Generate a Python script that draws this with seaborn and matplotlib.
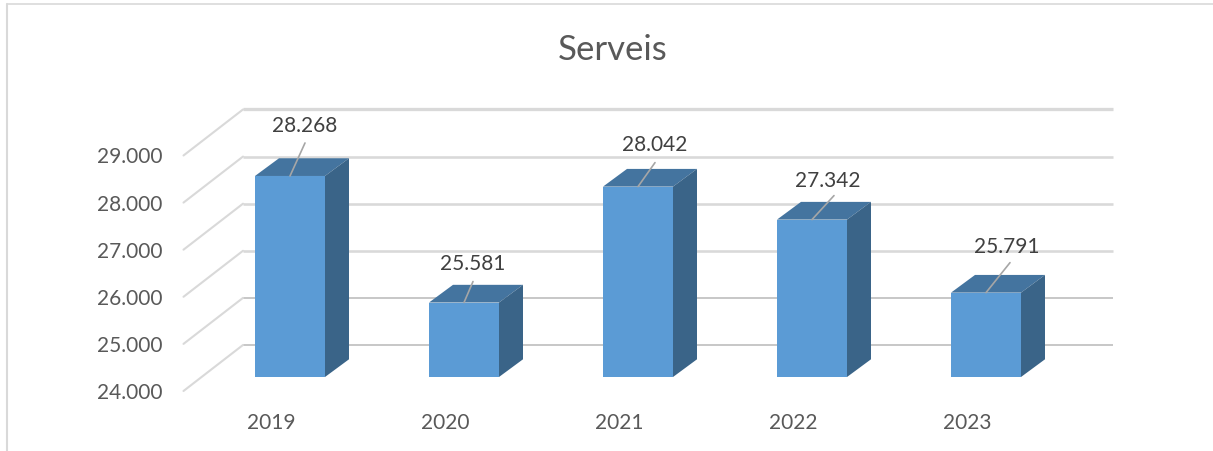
import matplotlib
matplotlib.use("Agg")
import matplotlib.pyplot as plt
import pandas as pd
import seaborn as sns
from matplotlib.lines import Line2D
from matplotlib.patches import Polygon
from matplotlib.transforms import ScaledTranslation

anys = ["2019", "2020", "2021", "2022", "2023"]
serveis = [28268, 25581, 28042, 27342, 25791]
eix_y = [24000, 25000, 26000, 27000, 28000, 29000]

# posicio de les etiquetes i de les linies guia, en pixels des del centre de la barra
etiq_offset = [(15, 51), (9, 40), (17, 43), (16, 40), (21, 47)]
guia_offset = [(15, 33), (9, 21), (17, 24), (22, 24), (24, 30)]

W, H = 1213, 452
sns.set_theme(style="white")
plt.rcParams["font.family"] = ["Lato", "DejaVu Sans"]


def fmt(v):
    return f"{v:,}".replace(",", ".")


df = pd.DataFrame({"any": anys, "serveis": serveis})

fig = plt.figure(figsize=(W / 100, H / 100), dpi=100)
ax = fig.add_axes([203 / W, (H - 378) / H, 870 / W, 235.5 / H])

sns.barplot(
    data=df, x="any", y="serveis", color="#5B9BD5", saturation=1, width=70 / 174,
    linewidth=0, ax=ax, zorder=3,
)
ax.set_xlim(-0.5, 4.5)
ax.set_ylim(24000, 29000)
ax.set_xlabel("")
ax.set_ylabel("")
sns.despine(ax=ax, left=True, bottom=True)

# profunditat de la caixa 3D
bar_w = 70 / 174 / 2
bar_dx = 24 / 174
bar_dy = 376
back_dx = 40 / 174
back_dy = 680
front_dx = 19.5 / 174
front_dy = 297

for i, v in enumerate(serveis):
    ax.add_patch(Polygon(
        [(i - bar_w, v), (i + bar_w, v), (i + bar_w + bar_dx, v + bar_dy), (i - bar_w + bar_dx, v + bar_dy)],
        fc="#44749F", ec="none", clip_on=False, zorder=3,
    ))
    ax.add_patch(Polygon(
        [(i + bar_w, 24000), (i + bar_w, v), (i + bar_w + bar_dx, v + bar_dy), (i + bar_w + bar_dx, 24000 + bar_dy)],
        fc="#3A6488", ec="none", clip_on=False, zorder=3,
    ))

# graella del fons i diagonals del lateral
for v in eix_y:
    lw = 3.3 if v == 29000 else (2.6 if v > 25000 else 2.0)
    color = "#D9D9D9" if v > 25000 else "#C8C8C8"
    ax.plot([-0.5 + back_dx, 4.5 + back_dx], [v + back_dy, v + back_dy], color=color, lw=lw * 0.72,
            clip_on=False, zorder=1, solid_capstyle="butt")
    ax.plot([-0.5 - front_dx, -0.5 + back_dx], [v - front_dy, v + back_dy], color="#D9D9D9", lw=1.5,
            clip_on=False, zorder=1, solid_capstyle="round")

# etiquetes de valor amb linia guia
for i, v in enumerate(serveis):
    ax.annotate("", xy=(i, v), xytext=guia_offset[i], textcoords="offset pixels",
                arrowprops=dict(arrowstyle="-", color="#A6A6A6", lw=1.2, shrinkA=0, shrinkB=0),
                annotation_clip=False, zorder=5)
    ax.annotate(fmt(v), xy=(i, v), xytext=etiq_offset[i], textcoords="offset pixels",
                ha="center", va="center", fontsize=15, color="#404040",
                annotation_clip=False, zorder=6)

ax.set_yticks(eix_y)
ax.set_yticklabels([fmt(v) for v in eix_y])
ax.tick_params(axis="y", length=0, pad=29, labelsize=15, labelcolor="#595959")
ax.tick_params(axis="x", length=0, pad=25.5, labelsize=15, labelcolor="#595959")

for lab in ax.get_yticklabels():
    lab.set_transform(lab.get_transform() + ScaledTranslation(0, -13 / 100, fig.dpi_scale_trans))
for lab in ax.get_xticklabels():
    lab.set_transform(lab.get_transform() + ScaledTranslation(-19 / 100, 0, fig.dpi_scale_trans))

fig.text(612.5 / W, 1 - 50 / H, "Serveis", ha="center", va="center", fontsize=25, color="#595959")

# marc del grafic
fig.add_artist(Line2D([7 / W, 7 / W], [0, 1 - 5 / H], color="#D9D9D9", lw=1.5))
fig.add_artist(Line2D([7 / W, 1], [1 - 5 / H, 1 - 5 / H], color="#D9D9D9", lw=1.2))

fig.savefig("out.png", dpi=100, facecolor="white")
